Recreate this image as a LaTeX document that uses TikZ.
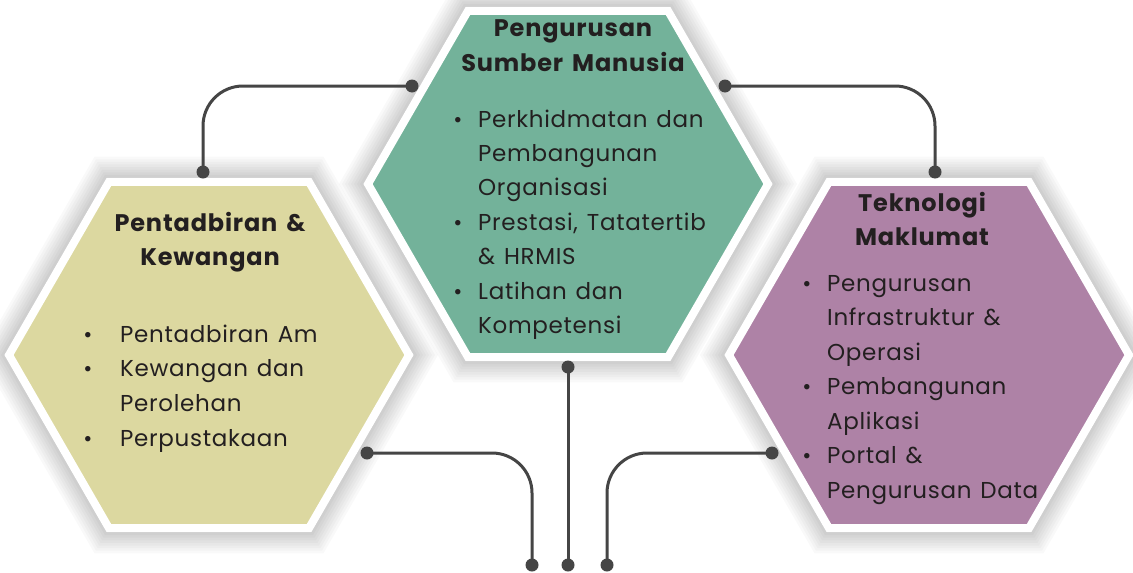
\documentclass[tikz,border=0pt]{standalone}
\usepackage{fontspec}
\setmainfont{Poppins}[LetterSpace=3,WordSpace=1.3]
\newfontfamily\ttlfont{Poppins}[LetterSpace=3.5,WordSpace=1.5]
\usetikzlibrary{shapes.geometric}
\definecolor{hexL}{HTML}{DCD8A0}
\definecolor{hexM}{HTML}{73B29A}
\definecolor{hexR}{HTML}{AE82A6}
\definecolor{conn}{HTML}{454545}
\definecolor{txt}{HTML}{231F20}
\tikzset{
  hexbox/.style={regular polygon, regular polygon sides=6, minimum size=400pt, inner sep=0pt, draw=white, line width=8pt},
  hexshadow/.style={regular polygon, regular polygon sides=6, inner sep=0pt, fill=black, fill opacity=0.022, draw=none},
  wire/.style={draw=conn, line width=3pt, rounded corners=40pt},
  dotnode/.style={circle, fill=conn, inner sep=0pt, minimum size=13pt},
  ttl/.style={font=\ttlfont\fontsize{24}{34}\selectfont\bfseries, text=txt, anchor=base, inner sep=0pt},
  itm/.style={font=\fontsize{23}{34}\selectfont, text=txt, anchor=base west, inner sep=0pt},
  bul/.style={font=\fontsize{22}{34}\selectfont, text=txt, anchor=base, inner sep=0pt}
}
\begin{document}
\begin{tikzpicture}[x=1pt,y=-1pt]
\useasboundingbox (0,0) rectangle (1133,573);
\fill[white] (0,0) rectangle (1133,573);
% shadows
\foreach \c [count=\k] in {(209,355),(568,184),(929,355)}{
  \foreach \s in {410,416,...,460}{
    \node[hexshadow, minimum size=\s pt] (sh\k-\s) at \c {};
  }
}
% hexagons
\node[hexbox, fill=hexL] (L) at (209,355) {};
\node[hexbox, fill=hexM] (M) at (568,184) {};
\node[hexbox, fill=hexR] (R) at (929,355) {};
% connector end points
\coordinate (tlA) at (412,86);
\coordinate (tlB) at (203,172);
\coordinate (trA) at (725,86);
\coordinate (trB) at (935,172);
\coordinate (blA) at (367,453);
\coordinate (blB) at (532,565);
\coordinate (bmA) at (568,367);
\coordinate (bmB) at (568,565);
\coordinate (brA) at (772,453);
\coordinate (brB) at (607,565);
\draw[wire] (tlA) -- (tlB |- tlA) -- (tlB);
\draw[wire] (trA) -- (trB |- trA) -- (trB);
\draw[wire] (blA) -- (blB |- blA) -- (blB);
\draw[wire] (bmA) -- (bmB);
\draw[wire] (brA) -- (brB |- brA) -- (brB);
\foreach \p in {tlA,tlB,trA,trB,blA,blB,bmA,bmB,brA,brB}{
  \node[dotnode] (d\p) at (\p) {};
}
% titles
\node[ttl] (mt1) at (573,36) {Pengurusan};
\node[ttl] (mt2) at (573,71) {Sumber Manusia};
\node[ttl] (lt1) at (210,231) {Pentadbiran \&};
\node[ttl] (lt2) at (210,265) {Kewangan};
\node[ttl] (rt1) at (922,211) {Teknologi};
\node[ttl] (rt2) at (922,245) {Maklumat};
% middle items
\foreach \t [count=\i from 0] in {Perkhidmatan dan, Pembangunan, Organisasi, {Prestasi, Tatatertib}, \& HRMIS, Latihan dan, Kompetensi}{
  \node[itm] (mi\i) at (478,127+\i*34.4) {\t};
}
\foreach \i in {0,3,5}{ \node[bul] (mb\i) at (458,127+\i*34.4) {•}; }
% left items
\foreach \t [count=\i from 0] in {Pentadbiran Am, Kewangan dan, Perolehan, Perpustakaan}{
  \node[itm] (li\i) at (120,342+\i*34.7) {\t};
}
\foreach \i in {0,1,3}{ \node[bul] (lb\i) at (88,342+\i*34.7) {•}; }
% right items
\foreach \t [count=\i from 0] in {Pengurusan, Infrastruktur \&, Operasi, Pembangunan, Aplikasi, Portal \&, Pengurusan Data}{
  \node[itm] (ri\i) at (827,291+\i*34.5) {\t};
}
\foreach \i in {0,3,5}{ \node[bul] (rb\i) at (807,291+\i*34.5) {•}; }
\end{tikzpicture}
\end{document}
